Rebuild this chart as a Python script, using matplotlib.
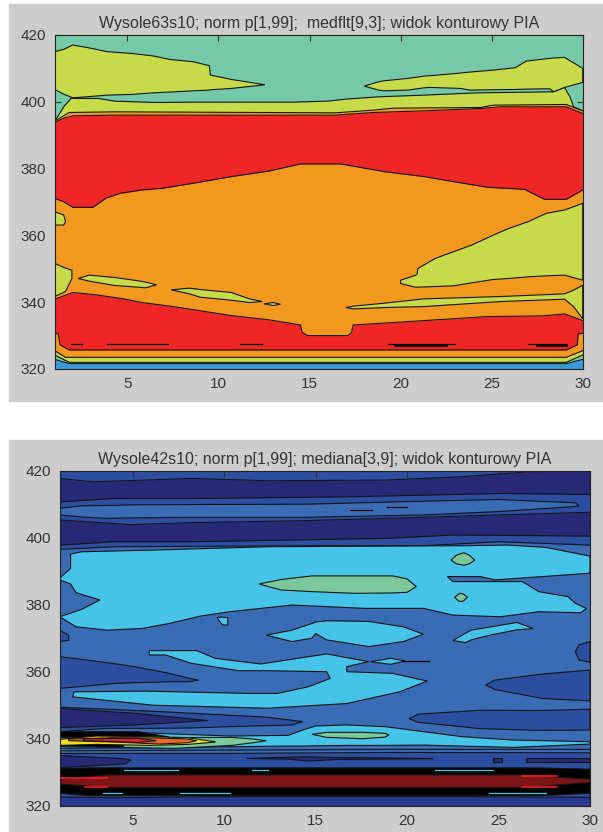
import matplotlib
matplotlib.use("Agg")
import matplotlib.pyplot as plt
from matplotlib.patches import Rectangle

plt.rcParams['font.family'] = ['Liberation Sans', 'DejaVu Sans']

W, H = 603, 832
GRAY = '#cccdcc'
TEAL = '#76c9a8'
YEL = '#c6db47'
RED = '#ef2625'
ORA = '#f3981e'
BLUE = '#3a9ad9'
NAVY1 = '#262a77'
NAVY2 = '#2c4fa2'
NAVY3 = '#2b3990'
MID = '#3a6bb5'
CYAN = '#45c3e8'
GREEN = '#7bc89a'
DRED = '#7d1416'
LINE = '#151515'

xTicks = [5, 10, 15, 20, 25, 30]
yTicks = [320, 340, 360, 380, 400, 420]
title1 = 'Wysole63s10; norm p[1,99];  medflt[9,3]; widok konturowy PIA'
title2 = 'Wysole42s10; norm p[1,99]; mediana[3,9]; widok konturowy PIA'

# top panel, contour boundaries (x, upper y)
t_mid_x = [1, 1.06, 1.5, 1.9, 3.4, 4.3, 6.5, 8.6, 14.1, 16, 17, 18.8, 21.3, 23.4, 24.4, 28.4, 29, 29.3, 29.5, 30]
t_mid_y = [394, 394.6, 398.5, 401, 401, 400.2, 399.8, 399.9, 399.9, 400.2, 400.8, 401.5, 402, 402.5, 402.7, 403, 404.3, 401.5, 398.5, 397.3]
t_oraStrip_x = [1, 1.06, 1.8, 4.3, 16.4, 18.5, 19.6, 24.4, 25.1, 29.1, 30]
t_oraStrip_y = [394, 394.4, 396.8, 397, 396.7, 397.5, 398.1, 398.3, 399, 399.2, 397.3]
t_red_x = [1, 1.5, 2, 4.3, 16.4, 18.5, 21.3, 24.4, 25.5, 29.1, 30]
t_red_y = [393.8, 395.1, 395.8, 396, 396, 396.8, 397.3, 398, 398.5, 398.5, 396.5]
t_ora_x = [1, 1.5, 2, 3.1, 3.8, 4.6, 5.8, 6.9, 8.6, 10.7, 12.8, 14.5, 16.7, 19.1, 21.3, 22.9, 24.8, 26.8, 27.9, 29.1, 30]
t_ora_y = [371.1, 370.1, 368.4, 368.4, 371.1, 372.6, 373.6, 374.1, 375.6, 377.6, 379.3, 381.4, 381.4, 379.1, 377.6, 376.1, 374.4, 373.8, 370.8, 370.8, 373.6]
t_red2_x = [1, 2, 3.3, 4.8, 5.8, 7.5, 10.7, 12.8, 14.5, 14.6, 14.9, 17.1, 17.3, 17.4, 19.6, 21.3, 24.8, 27.8, 29, 30]
t_red2_y = [340.9, 342.9, 342.2, 341, 339.9, 338.7, 336, 334.7, 333.2, 330.9, 330, 330, 330.9, 333.2, 333.9, 334.5, 335.7, 335.9, 336.5, 334.5]
t_ora2_x = [1, 1.2, 1.3, 1.8, 29.1, 29.7, 29.75, 30]
t_ora2_y = [330.7, 330.5, 327.2, 325.7, 325.7, 327.2, 330.5, 330.7]
t_yel2_x = [1, 1.6, 29.1, 30]
t_yel2_y = [325.5, 323.5, 323.5, 325.5]
t_teal2_x = [1, 1.8, 29.1, 30]
t_teal2_y = [324.2, 322, 322, 324.2]
t_blue_x = [1, 1.8, 29.1, 30]
t_blue_y = [322.9, 321.6, 321.6, 322.9]

# top panel, closed islands (x, upper, lower)
t_islands = [
    ([1, 1.5, 2, 2.75, 3.9, 5.2, 6.45, 7.3, 8.6, 9.5, 9.55, 10.7, 12.55],
     [415, 415.7, 417, 416.3, 415, 414.5, 413.7, 412.7, 412, 410.8, 408, 406.7, 405.1],
     [403.7, 402.3, 401.2, 401.5, 402, 402.2, 402.7, 402.9, 403.3, 403.5, 403.6, 404, 405.1]),
    ([18, 18.8, 19.1, 20.4, 21.3, 21.6, 23.3, 23.4, 23.8, 25.1, 26.3, 26.9, 28.2, 28.4, 29, 30],
     [404.7, 406, 406.3, 407, 407.7, 407.8, 408.6, 408.7, 408.9, 409.5, 410.2, 412.2, 413, 413.1, 413.3, 410],
     [404.7, 403.5, 403.3, 403.5, 404.2, 404.3, 404, 403.9, 403.5, 403.6, 403.7, 403.8, 403.9, 403, 404.3, 405.8]),
    ([1, 1.5, 1.6], [367.1, 366.1, 364.1], [363.1, 363.1, 364.1]),
    ([1, 1.6, 1.95], [351.6, 350.2, 349.6], [341.7, 343.2, 347.1]),
    ([20, 20.8, 20.9, 20.95, 21.9, 22.9, 23.9, 25.1, 25.9, 27, 28, 29, 30],
     [346.6, 348, 348.4, 350.1, 353.1, 355.1, 357.1, 360.1, 362, 364.1, 366.6, 367.6, 369.6],
     [345.6, 344.5, 344.5, 344.5, 344.7, 344.9, 345.8, 346.8, 347.1, 347.6, 347.9, 348.1, 346.6]),
    ([2.3, 2.9, 4.3, 5.6, 6, 6.6], [347.1, 348.1, 347.4, 346.4, 346, 345.2], [347.1, 346.3, 345, 344.5, 344.3, 345.2]),
    ([7.4, 8.4, 9, 10.7, 11.7, 12.4], [343.7, 344.2, 343.8, 342.9, 341, 340.2], [343.7, 342.5, 341.5, 340.6, 339.9, 340.2]),
    ([12.5, 13, 13.4], [339.5, 339.9, 339.4], [339.5, 339, 339.4]),
    ([17, 17.4, 19.1, 21.3, 25.5, 29, 29.5, 30],
     [338.4, 338.8, 339.7, 341, 341.7, 342.5, 343.6, 345.1],
     [338.4, 338, 338.4, 338.7, 340.2, 340.9, 338.7, 335]),
]
t_dash_thin = [(1.9, 2.5), (3.9, 7.2), (11.2, 12.4), (19.3, 23), (27, 29.1)]
t_dash_thick = [(19.7, 22.5), (27.5, 29.1)]

# bottom panel, boundaries running across the whole width
b_n1_x = [1, 2.8, 5.7, 8.2, 12.4, 18.8, 23, 26.7, 28.2, 30]
b_n1_y = [417.7, 416.7, 417.2, 417.7, 417, 417.2, 418.2, 419.7, 419.8, 420]
b_n2_x = [1, 4, 8.2, 16.7, 20.9, 25, 30]
b_n2_y = [410.7, 411.7, 411.7, 412.2, 412.7, 413.2, 412.9]
b_n3_x = [1, 4.9, 8.2, 14.5, 20.9, 25, 30]
b_n3_y = [405.3, 403.9, 404.5, 405.1, 406.1, 406.8, 407.6]
b_n4_x = [1, 4, 8.2, 18.8, 22.5, 30]
b_n4_y = [397.8, 398.8, 398.8, 399.8, 400.8, 400.5]
b_mid_x = [1, 4, 14.5, 20.9, 25, 30]
b_mid_y = [396.5, 397.3, 397.6, 397.6, 398.8, 397.8]
b_low_x = [1, 10.3, 18.8, 30]
b_low_y = [336.4, 336.6, 336.8, 336.8]
b_low2_x = [1, 10.3, 18.8, 30]
b_low2_y = [335.6, 335.6, 335.9, 335.8]
b_floor_x = [1, 4.5, 8.9, 23.7, 30]
b_floor_y = [322.6, 322.4, 322.7, 322.7, 322.5]

b_lens = (
    [1, 2.2, 3.4, 5, 8.2, 14.5, 20.9, 25, 29.2, 29.4],
    [408.8, 409.5, 409.6, 409.8, 409.9, 410, 410.9, 411.4, 410.4, 409.5],
    [406.8, 406.2, 405.8, 405.9, 406.1, 406.1, 406.8, 407.8, 409.3, 409.5])

# big cyan areas as outlines
b_cy1_x = [1.6, 2.2, 6.1, 12.4, 23, 25.5, 27.6, 30, 30, 28.2, 24.8, 24, 22.2, 22.5, 24.6, 26.3, 27.2, 28.8, 29.2, 29.8, 29.5, 27.2, 25.1, 22.5, 20.9, 17.7, 13.7, 10.3, 8.7, 7, 5.5, 3.6, 1.9, 1, 2.2, 3.2, 1.9, 1.6, 1, 1.1, 1.6]
b_cy1_y = [395.1, 395.8, 396.3, 397.3, 397.6, 397.8, 397.1, 394.5, 389.4, 388.7, 387.4, 388.4, 388.4, 386.9, 386.9, 386.9, 383.9, 382.4, 380.4, 378.9, 377.6, 377.9, 376.4, 376.9, 378.9, 378.9, 379.9, 377.9, 376.6, 374.4, 372.9, 372.4, 373.4, 376.4, 378.6, 381.4, 383.6, 386.2, 387.4, 388.4, 390.8]
b_cy2_x = [5.9, 8.5, 9.5, 12, 15.6, 17.9, 16.7, 16.7, 19.2, 21.1, 19.6, 16.7, 12.4, 6.1, 1.7, 1.8, 5.7, 11.4, 12.9, 14.6, 15.8, 15.6, 12.4, 10.8, 8.2, 6.8, 5.9]
b_cy2_y = [366.3, 366.3, 364, 362.3, 365.3, 363, 361.5, 360, 359.5, 357.2, 354, 350.5, 349.1, 350, 352.5, 354, 354.2, 353.5, 353.5, 355.5, 358, 360, 360.3, 360.3, 362.5, 365, 365]

# islands in the bottom panel: colour name, x, upper, lower
b_islands = [
    (GREEN, [22.4, 22.7, 23.1, 23.4, 23.7], [393.3, 394.8, 395.5, 394.8, 393.3], [393.3, 392.2, 391.8, 392.2, 393.3]),
    (GREEN, [11.9, 13.1, 14.8, 17.1, 19.2, 20, 20.5], [386.2, 387.5, 388.6, 388.6, 388.6, 387.7, 385.4], [386.2, 384.4, 383.9, 383.4, 383.5, 383.7, 385.4]),
    (GREEN, [22.6, 22.8, 22.95, 23.1, 23.3], [382.2, 383.1, 383.4, 383.1, 382.2], [382.2, 381.2, 380.9, 381.2, 382.2]),
    (CYAN, [9.6, 9.9, 10.2], [376.2, 376.3, 376.1], [376.2, 374, 373.9]),
    (CYAN, [12.3, 13.7, 14.8, 15, 15.6, 17.9, 19.8, 20.9], [370.9, 372.4, 374.4, 374.8, 375.2, 375, 373.4, 371.2], [370.9, 369, 370, 371.4, 369.5, 367.5, 369, 371.2]),
    (CYAN, [22.5, 23.2, 23.5, 24.6, 26, 26.9], [369.3, 371.5, 372.4, 373.4, 374.7, 372.9], [369.3, 368.7, 369.5, 371, 372.5, 372.9]),
    (NAVY2, [29.2, 29.4, 30], [366, 368, 369], [366, 363.5, 362.8]),
    (NAVY2, [1, 1.5], [372.4, 370.9], [369, 369.4]),
    (NAVY2, [1, 4, 5.1, 7, 8.1, 8.6], [364.5, 362.4, 361.5, 359.5, 358, 357.5], [355, 356.5, 356.7, 357, 357, 357.5]),
    (NAVY2, [24.3, 24.8, 27.4, 30], [356, 357.5, 359.3, 360.5], [356, 354.7, 352, 351.3]),
    (CYAN, [18, 19.1, 19.9], [363, 364, 363.2], [363, 362.2, 363.2]),
    (NAVY2, [1, 3.6, 6.1, 8.2, 10.3, 12.4, 13.7, 14.3], [349.4, 348.8, 348.2, 347.6, 347, 346.4, 345.5, 345.1], [342.1, 343.1, 343.1, 343.2, 343.6, 343.9, 344.1, 345.1]),
    (NAVY1, [1, 5.1, 9.1], [349, 347.6, 345.4], [343.3, 344.1, 345.4]),
    (NAVY2, [20.1, 20.6, 24, 27.2, 30], [346, 347.3, 348.5, 348.4, 348.8], [346, 344.9, 343, 342.5, 342.6]),
    (CYAN, [1, 5.3, 10.3, 13.5, 14.3, 15, 16.7, 18.8, 20.9, 23, 25.8, 30],
     [341.8, 341.8, 340.8, 341, 342.6, 343.8, 344.1, 343.6, 342.1, 340.6, 339.6, 339.1],
     [337.1, 337.3, 337.6, 337.8, 337.8, 337.9, 338, 338, 338.1, 337.8, 337.4, 338.4]),
    (GREEN, [14.8, 15.6, 17.6, 18.8, 19], [341.3, 341.9, 341.9, 341.6, 341.1], [341.3, 340.4, 340, 340.5, 341.1]),
    ('black', [1, 5.3, 7], [342.1, 342.1, 340.5], [340.3, 340.5, 340.5]),
    ('black', [1, 5, 9], [338.8, 338, 337.9], [337.6, 337.4, 337.6]),
    (GREEN, [4.5, 7.3, 10.4, 11.6, 12.3], [339.2, 340.3, 340.4, 339.9, 339.4], [337.4, 337.1, 338, 338.8, 339.4]),
    ('#f3de1e', [1, 3, 6, 8, 9.5], [339.8, 340.8, 340.6, 340.3, 339.1], [338, 338.3, 338, 338.3, 339]),
    ('#ee6a24', [1.5, 4, 6.5, 8, 8.5], [339.9, 340.3, 340.2, 339.9, 339.4], [339.4, 339, 338.4, 338.8, 339.4]),
    ('#ee1c25', [2.3, 5.3, 6.3], [340, 340.1, 339.4], [339.4, 338.9, 339.4]),
    (NAVY1, [11.2, 13.5, 14.6, 16.2, 21.4], [334.1, 334.5, 334.6, 334.4, 334.1], [334.1, 333.9, 333.3, 333.8, 334]),
    (NAVY1, [1, 4.6, 4.9], [335, 334, 333.6], [331.3, 332.5, 333.6]),
    (NAVY1, [24.7, 25.2], [334.2, 334.2], [333, 333]),
    (NAVY1, [26.5, 30], [334.2, 334.2], [333, 333]),
    ('black', [1, 2.6, 27.2, 30], [331, 331.3, 331.3, 330.9], [323.7, 323, 323, 323.7]),
    (DRED, [1, 3.6, 26.3, 30], [328, 329.2, 329.2, 327.9], [326.5, 325.4, 325.4, 326.9]),
]
b_dash_cyan = [(4.5, 7.5, 330.6), (11.5, 12.4, 330.6), (21.5, 24.7, 330.6), (3.4, 4.4, 323.9), (7.6, 10.3, 323.9), (24.5, 27.6, 323.9)]
b_dash_red = [(1.1, 3.6, 328.2), (2.4, 3.6, 325.7), (26.3, 28.2, 329), (26.3, 28.2, 325.7)]
b_dash_black = [(16.9, 18.1, 408.3), (18.9, 20, 409.1), (19.8, 21.2, 363.3)]


def addPanel(left, top, right, bottom, title):
    ax = fig.add_axes([left / W, 1 - bottom / H, (right - left) / W, (bottom - top) / H])
    ax.set_xlim(1, 30)
    ax.set_ylim(320, 420)
    ax.set_xticks(xTicks)
    ax.set_yticks(yTicks)
    ax.tick_params(direction='in', top=True, right=True, length=4, width=0.8, labelsize=11,
                   colors='#333333', pad=6)
    ax.set_title(title, fontsize=11.5, color='#333333', pad=5)
    for s in ax.spines.values():
        s.set_linewidth(0.8)
        s.set_color('#222222')
    return ax


def band(ax, x, y, color):
    # filled from the contour line down to the axis floor
    ax.fill_between(x, y, 320, color=color, lw=0, zorder=2)
    ax.plot(x, y, color=LINE, lw=0.8, zorder=2)


def island(ax, x, hi, lo, color):
    ax.fill(list(x) + list(x)[::-1], list(hi) + list(lo)[::-1], facecolor=color, edgecolor=LINE, lw=0.8, zorder=2)


fig = plt.figure(figsize=(W / 100, H / 100), dpi=100, facecolor='white')
fig.patches.append(Rectangle((9 / W, 1 - 401 / H), 594 / W, 397 / H, transform=fig.transFigure, color=GRAY, zorder=-5))
fig.patches.append(Rectangle((9 / W, 0), 594 / W, 392 / H, transform=fig.transFigure, color=GRAY, zorder=-5))

# top panel
ax = addPanel(54.6, 35, 582.7, 369, title1)
ax.set_facecolor(TEAL)
band(ax, t_mid_x, t_mid_y, YEL)
band(ax, t_oraStrip_x, t_oraStrip_y, ORA)
band(ax, t_red_x, t_red_y, RED)
band(ax, t_ora_x, t_ora_y, ORA)
for x, hi, lo in t_islands:
    island(ax, x, hi, lo, YEL)
band(ax, t_red2_x, t_red2_y, RED)
band(ax, t_ora2_x, t_ora2_y, ORA)
band(ax, t_yel2_x, t_yel2_y, YEL)
band(ax, t_teal2_x, t_teal2_y, TEAL)
band(ax, t_blue_x, t_blue_y, BLUE)
for a, b in t_dash_thin:
    ax.plot([a, b], [327.4, 327.4], color='k', lw=0.9, zorder=3)
for a, b in t_dash_thick:
    ax.plot([a, b], [327.2, 327.2], color='k', lw=1.8, zorder=3)

# bottom panel
ax = addPanel(59.6, 470.7, 590, 805.7, title2)
ax.set_facecolor(NAVY2)
band(ax, b_n1_x, b_n1_y, NAVY1)
band(ax, b_n2_x, b_n2_y, NAVY2)
island(ax, b_lens[0], b_lens[1], b_lens[2], MID)
band(ax, b_n3_x, b_n3_y, NAVY1)
band(ax, b_n4_x, b_n4_y, NAVY2)
band(ax, b_mid_x, b_mid_y, MID)
ax.fill(b_cy1_x, b_cy1_y, facecolor=CYAN, edgecolor=LINE, lw=0.8, zorder=2)
ax.fill(b_cy2_x, b_cy2_y, facecolor=CYAN, edgecolor=LINE, lw=0.8, zorder=2)
band(ax, b_low_x, b_low_y, MID)
band(ax, b_low2_x, b_low2_y, NAVY2)
for color, x, hi, lo in b_islands:
    island(ax, x, hi, lo, color)
band(ax, b_floor_x, b_floor_y, NAVY3)
for a, b, y in b_dash_cyan:
    ax.plot([a, b], [y, y], color=CYAN, lw=0.9, zorder=3)
for a, b, y in b_dash_red:
    ax.plot([a, b], [y, y], color='#ee1c25', lw=1.2, zorder=3)
for a, b, y in b_dash_black:
    ax.plot([a, b], [y, y], color='k', lw=0.9, zorder=3)

fig.savefig('out.png', dpi=100)
